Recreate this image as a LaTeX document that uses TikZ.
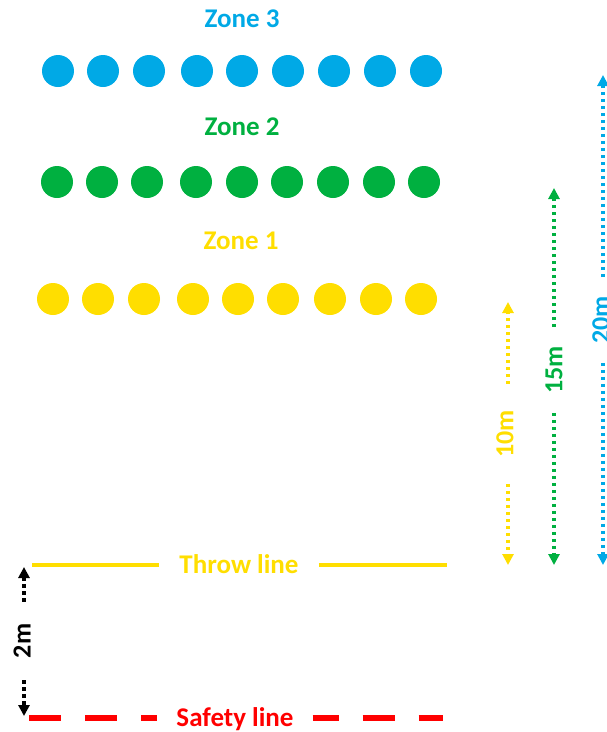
\documentclass[tikz,border=0pt]{standalone}
\usepackage{fontspec}
\setmainfont{Carlito}
\usetikzlibrary{arrows.meta,positioning}

\definecolor{zoneblue}{HTML}{00A9E6}
\definecolor{zonegreen}{HTML}{00B040}
\definecolor{zoneyellow}{HTML}{FFDE00}
\definecolor{safered}{HTML}{FF0000}

\begin{document}
\begin{tikzpicture}[
  x=1pt, y=-1pt,
  ball/.style={circle, fill, minimum size=32pt, inner sep=0pt},
  zlabel/.style={font=\bfseries\fontsize{27}{31}\selectfont},
  dimlabel/.style={font=\bfseries\fontsize{26}{30}\selectfont, rotate=90, inner xsep=19pt, inner ysep=2pt},
  dimarr/.style={-{Triangle[width=11pt,length=11pt]}, line width=3.5pt, dash pattern=on 3.5pt off 3.5pt},
  lineseg/.style={line width=4.5pt}
]
  \useasboundingbox (0,0) rectangle (607,732);

  % zones
  \node[zlabel, text=zoneblue] (z3) at (242,19) {Zone 3};
  \foreach \x [count=\i] in {58,103,149,197,242,288,334,380,426}
    \node[ball, zoneblue] (z3d\i) at (\x,71) {};
  \node[zlabel, text=zonegreen] (z2) at (242,127) {Zone 2};
  \foreach \x [count=\i] in {57,102,147,196,242,287,333,379,424}
    \node[ball, zonegreen] (z2d\i) at (\x,182) {};
  \node[zlabel, text=zoneyellow] (z1) at (241,241) {Zone 1};
  \foreach \x [count=\i] in {53,98,144,193,238,283,330,376,421}
    \node[ball, zoneyellow] (z1d\i) at (\x,299) {};

  % throw line
  \node[zlabel, text=zoneyellow, inner xsep=20pt] (throw) at (239,564) {Throw line};
  \coordinate (throwL) at (32,565);
  \coordinate (throwR) at (447,565);
  \draw[lineseg, zoneyellow] (throwL) -- (throw.west |- throwL);
  \draw[lineseg, zoneyellow] (throw.east |- throwR) -- (throwR);

  % safety line
  \node[zlabel, text=safered, inner xsep=19pt] (safety) at (235,719) {Safety line};
  \coordinate (safeL) at (29,718);
  \coordinate (safeR) at (443,718);
  \draw[line width=6.5pt, safered, dash pattern=on 32pt off 24pt] (safeL) -- (safety.west |- safeL);
  \draw[line width=6.5pt, safered, dash pattern=on 32pt off 24pt, dash phase=6pt] (safety.east |- safeR) -- (safeR);

  % distances
  \node[dimlabel, text=zoneyellow, inner xsep=26pt] (d10) at (505,434) {10m};
  \coordinate (d10top) at (508,302);
  \coordinate (d10bot) at (508,565);
  \draw[dimarr, zoneyellow] (d10top |- d10.east) -- (d10top);
  \draw[dimarr, zoneyellow] (d10bot |- d10.west) -- (d10bot);

  \node[dimlabel, text=zonegreen] (d15) at (554,370) {15m};
  \coordinate (d15top) at (554,188);
  \coordinate (d15bot) at (554,565);
  \draw[dimarr, zonegreen] (d15top |- d15.east) -- (d15top);
  \draw[dimarr, zonegreen] (d15bot |- d15.west) -- (d15bot);

  \node[dimlabel, text=zoneblue] (d20) at (601,320) {20m};
  \coordinate (d20top) at (603,75);
  \coordinate (d20bot) at (603,565);
  \draw[dimarr, zoneblue] (d20top |- d20.east) -- (d20top);
  \draw[dimarr, zoneblue] (d20bot |- d20.west) -- (d20bot);

  \node[dimlabel, text=black, inner xsep=22pt] (d2) at (22,641) {2m};
  \coordinate (d2top) at (24,567);
  \coordinate (d2bot) at (24,716);
  \draw[dimarr, black] (d2top |- d2.east) -- (d2top);
  \draw[dimarr, black] (d2bot |- d2.west) -- (d2bot);
\end{tikzpicture}
\end{document}
